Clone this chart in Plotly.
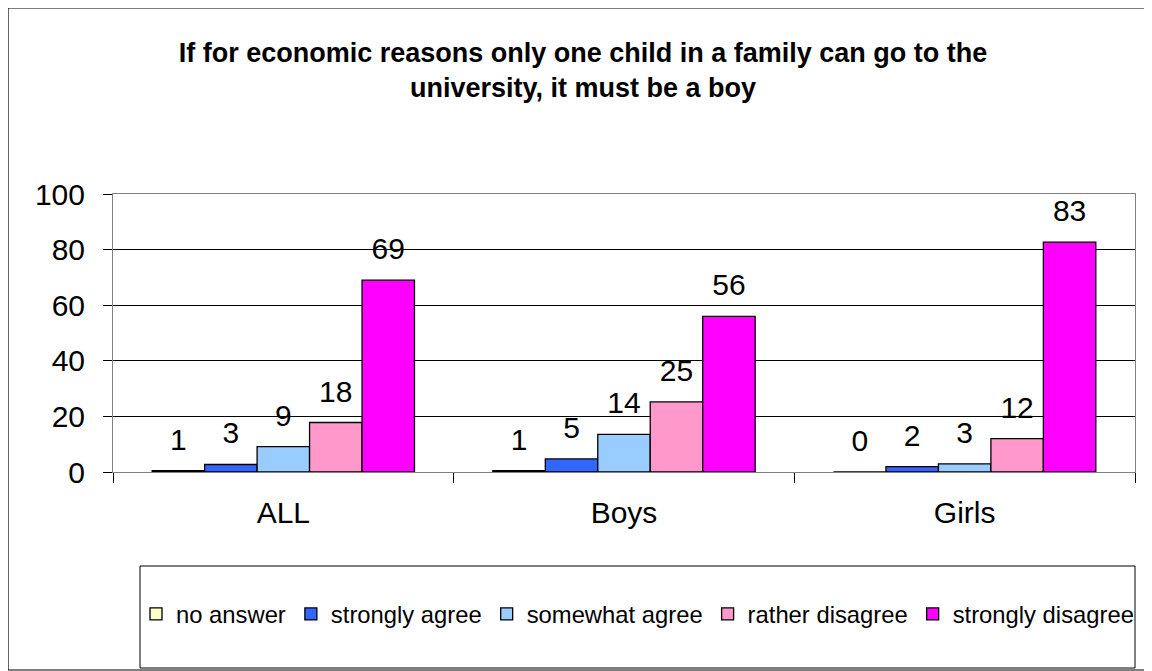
import plotly.graph_objects as go

# ---- data ----
categories = ["ALL", "Boys", "Girls"]
series_names = ["no answer", "strongly agree", "somewhat agree", "rather disagree", "strongly disagree"]
no_answer = [0.5, 0.5, 0.0]
strongly_agree = [2.7, 4.7, 1.9]
somewhat_agree = [9.1, 13.5, 2.9]
rather_disagree = [17.8, 25.2, 12.0]
strongly_disagree = [69.0, 56.0, 82.7]
labels_no_answer = ["1", "1", "0"]
labels_strongly_agree = ["3", "5", "2"]
labels_somewhat_agree = ["9", "14", "3"]
labels_rather_disagree = ["18", "25", "12"]
labels_strongly_disagree = ["69", "56", "83"]
y_tick_values = [0, 20, 40, 60, 80, 100]

series_values = [no_answer, strongly_agree, somewhat_agree, rather_disagree, strongly_disagree]
series_labels = [labels_no_answer, labels_strongly_agree, labels_somewhat_agree,
                 labels_rather_disagree, labels_strongly_disagree]
colors = ["#FFFFCC", "#3366FF", "#99CCFF", "#FF99CC", "#FF00FF"]

# page has an 8px body margin; work in page pixels and convert
OFF = 8
W, H = 1152 - OFF, 671 - OFF
PL, PR, PT, PB = 113, 1135, 194, 472          # plot area in page pixels
ML, MT = PL - OFF, PT - OFF
MR, MB = W - (PR - OFF), H - (PB - OFF)
PW, PH = PR - PL, PB - PT
FONT = "Arial, Liberation Sans, sans-serif"


def px_x(p):
    return (p - PL) / PW


def px_y(p):
    return (PB - p) / PH


fig = go.Figure()
for name, vals, col in zip(series_names, series_values, colors):
    fig.add_trace(go.Bar(
        x=categories, y=vals, name=name,
        marker=dict(color=col, line=dict(color="black", width=1.3)),
        hoverinfo="skip",
    ))
for name, vals, labs in zip(series_names, series_values, series_labels):
    fig.add_trace(go.Scatter(
        x=categories, y=vals, text=labs, mode="markers+text",
        textposition="top center",
        marker=dict(size=20, opacity=0),
        textfont=dict(family=FONT, size=30, color="black"),
        showlegend=False, hoverinfo="skip", cliponaxis=False,
    ))

fig.update_layout(
    width=W, height=H,
    margin=dict(l=ML, r=MR, t=MT, b=MB, autoexpand=False),
    paper_bgcolor="white", plot_bgcolor="white",
    barmode="group", bargap=0.23, bargroupgap=0,
    scattermode="group", scattergap=0.23,
    font=dict(family=FONT, color="black"),
    title=dict(
        text="<b>If for economic reasons only one child in a family can go to the<br>university, it must be a boy</b>",
        x=(583 - OFF) / W, xanchor="center", xref="container",
        y=1 - (62 - OFF) / H, yanchor="top", yref="container",
        font=dict(family=FONT, size=27, color="black"),
    ),
    legend=dict(
        orientation="h", x=px_x(136), xanchor="left",
        y=px_y(614), yanchor="middle",
        font=dict(family=FONT, size=23.8, color="black"),
        bgcolor="rgba(0,0,0,0)", itemwidth=30,
        traceorder="normal",
    ),
    showlegend=True,
    xaxis=dict(
        type="category", tickson="boundaries", ticks="outside", ticklen=10,
        tickcolor="black", showline=True, linecolor="#808080", linewidth=1,
        mirror=True, tickfont=dict(family=FONT, size=30, color="black"),
        ticklabelstandoff=14, showgrid=False,
    ),
    yaxis=dict(
        range=[0, 100], tickvals=y_tick_values, ticks="outside", ticklen=9,
        tickcolor="black", showline=True, linecolor="#808080", linewidth=1,
        mirror=True, showgrid=True, gridcolor="black", gridwidth=1,
        zeroline=False, tickfont=dict(family=FONT, size=30, color="black"),
        ticklabelstandoff=12,
    ),
    shapes=[
        dict(type="rect", xref="paper", yref="paper",
             x0=px_x(8), x1=px_x(1150), y0=px_y(670), y1=px_y(8),
             line=dict(color="black", width=1.2), fillcolor="rgba(0,0,0,0)", layer="below"),
        dict(type="rect", xref="paper", yref="paper",
             x0=px_x(140), x1=px_x(1135), y0=px_y(668), y1=px_y(566),
             line=dict(color="black", width=1), fillcolor="rgba(0,0,0,0)", layer="below"),
    ],
)

fig.write_html("out.html")
